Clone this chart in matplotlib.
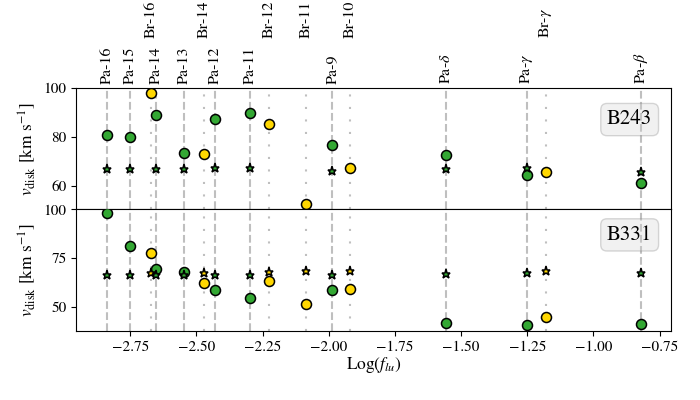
import matplotlib
matplotlib.use("Agg")
from matplotlib import pyplot as plt

# disk velocity from each H line, two sources

plt.rcParams['font.family'] = 'STIXGeneral'
plt.rcParams['mathtext.fontset'] = 'stix'
plt.rcParams['font.size'] = 11

pa_names = ['Pa-16', 'Pa-15', 'Pa-14', 'Pa-13', 'Pa-12', 'Pa-11', 'Pa-9',
            r'Pa-$\delta$', r'Pa-$\gamma$', r'Pa-$\beta$']
pa_logf = [-2.838, -2.75, -2.652, -2.546, -2.429, -2.299, -1.988, -1.556, -1.253, -0.82]
br_names = ['Br-16', 'Br-14', 'Br-12', 'Br-11', 'Br-10', r'Br-$\gamma$']
br_logf = [-2.67, -2.47, -2.227, -2.085, -1.921, -1.18]

# B243
b243_pa_obs = [80.6, 79.9, 88.9, 73.3, 87.4, 89.6, 76.8, 72.6, 64.5, 61.1]
b243_pa_mod = [66.9, 66.9, 66.7, 66.9, 67.1, 67.1, 65.9, 66.9, 67.1, 65.8]
b243_br_obs = [98.1, 73.1, 85.2, 52.4, 67.3, 65.5]

# B331
b331_pa_obs = [98.3, 81.2, 69.2, 67.8, 58.6, 54.3, 58.6, 41.5, 40.6, 41.0]
b331_pa_mod = [66.1, 66.1, 66.1, 66.1, 66.1, 66.1, 66.4, 66.6, 67.5, 67.5]
b331_br_obs = [77.4, 62.0, 63.2, 51.4, 59.3, 44.6]
b331_br_mod = [67.5, 67.6, 68.0, 68.3, 68.2, 68.2]

GREEN = '#33a833'
YELLOW = '#ffd700'

fig, (ax1, ax2) = plt.subplots(2, 1, sharex=True, figsize=(7, 4), dpi=100)
fig.subplots_adjust(left=0.109, right=0.959, top=0.78, bottom=0.173, hspace=0)

for ax in (ax1, ax2):
    for x in pa_logf:
        ax.axvline(x, color='gray', alpha=0.5, lw=1.5, ls='--', zorder=1)
    for x in br_logf:
        ax.axvline(x, color='gray', alpha=0.5, lw=1.5, ls=(0, (1, 5)), zorder=1)

circ = dict(ls='none', marker='o', ms=7.2, mec='k', mew=1.1, zorder=3)
star = dict(ls='none', marker='*', ms=6.8, mec='k', mew=1.1, zorder=4)

ax1.plot(pa_logf, b243_pa_obs, mfc=GREEN, **circ)
ax1.plot(br_logf, b243_br_obs, mfc=YELLOW, **circ)
ax1.plot(pa_logf, b243_pa_mod, mfc=GREEN, **star)

ax2.plot(pa_logf, b331_pa_obs, mfc=GREEN, **circ)
ax2.plot(br_logf, b331_br_obs, mfc=YELLOW, **circ)
ax2.plot(br_logf, b331_br_mod, mfc=YELLOW, **star)
ax2.plot(pa_logf, b331_pa_mod, mfc=GREEN, **star)

# line names above the top panel
trans = ax1.get_xaxis_transform()
for x, name in zip(pa_logf, pa_names):
    ax1.text(x, 1.03, name, transform=trans, rotation=90, ha='center', va='bottom',
             fontsize=11.5)
for x, name in zip(br_logf, br_names):
    ax1.text(x, 1.41, name, transform=trans, rotation=90, ha='center', va='bottom',
             fontsize=11.5)

box = dict(boxstyle='round,pad=0.3', facecolor='lightgray', edgecolor='gray', alpha=0.3)
ax1.text(0.93, 0.74, 'B243', transform=ax1.transAxes, ha='center', va='center',
         fontsize=15, bbox=box, zorder=2)
ax2.text(0.93, 0.79, 'B331', transform=ax2.transAxes, ha='center', va='center',
         fontsize=15, bbox=box, zorder=2)

ax1.set_ylim(50.3, 100)
ax1.set_yticks([60, 80, 100])
ax2.set_ylim(37.7, 100)
ax2.set_yticks([50, 75, 100])
ax2.set_xlim(-2.954, -0.706)
ax2.set_xticks([-2.75, -2.5, -2.25, -2.0, -1.75, -1.5, -1.25, -1.0, -0.75])
ax1.tick_params(axis='x', length=0)

ax1.set_ylabel(r'$v_{\rm disk}$ [km s$^{-1}$]', fontsize=12.5)
ax2.set_ylabel(r'$v_{\rm disk}$ [km s$^{-1}$]', fontsize=12.5)
ax2.set_xlabel(r'Log($f_{lu}$)', fontsize=12.5, labelpad=1)

fig.savefig('out.png', dpi=100)
